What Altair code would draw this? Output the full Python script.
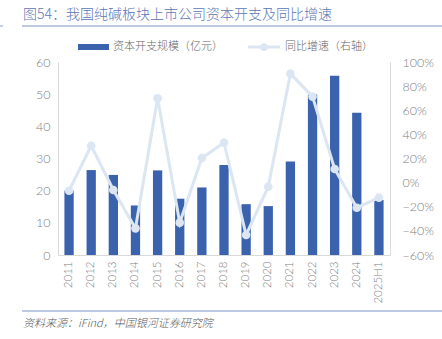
import altair as alt
import pandas as pd

years = ["2011", "2012", "2013", "2014", "2015", "2016", "2017", "2018",
         "2019", "2020", "2021", "2022", "2023", "2024", "2025H1"]
capex = [20.0, 26.4, 24.9, 15.4, 26.3, 17.5, 21.0, 28.0,
         15.8, 15.2, 29.1, 49.9, 55.7, 44.2, 17.1]
growth = [-0.067, 0.306, -0.061, -0.379, 0.699, -0.332, 0.204, 0.331,
          -0.434, -0.034, 0.903, 0.713, 0.113, -0.208, -0.125]

df = pd.DataFrame({"year": years, "capex": capex, "growth": growth})

FONT = "Noto Sans CJK SC"
NUMFONT = "Lato"
BAR = "#3a62ad"
LINE = "#dbe6f2"
GRAY = "#808080"
DOMAIN = "#d9d9d9"
TITLE_C = "#5a78b6"

xenc = alt.X("year:N", sort=years, title=None,
             scale=alt.Scale(paddingInner=0.58, paddingOuter=0.29),
             axis=alt.Axis(labelAngle=270, labelColor=GRAY, labelFontSize=11.5,
                           labelPadding=6, ticks=False, domainColor=DOMAIN,
                           labelFont=NUMFONT, labelFontWeight=300))

bars = alt.Chart(df).mark_bar(color=BAR).encode(
    x=xenc,
    y=alt.Y("capex:Q", title=None,
            scale=alt.Scale(domain=[0, 60], nice=False),
            axis=alt.Axis(values=[0, 10, 20, 30, 40, 50, 60], ticks=False,
                          grid=False, labelColor=GRAY, labelFontSize=12.5,
                          labelPadding=8, domainColor=DOMAIN, labelFont=NUMFONT,
                          labelFontWeight=300)),
)

line = alt.Chart(df).mark_line(color=LINE, strokeWidth=3,
                               point=alt.OverlayMarkDef(color=LINE, filled=True, size=75, opacity=1)).encode(
    x=alt.X("year:N", sort=years),
    y=alt.Y("growth:Q", title=None,
            scale=alt.Scale(domain=[-0.6, 1.0], nice=False),
            axis=alt.Axis(orient="right", format=".0%",
                          values=[-0.6, -0.4, -0.2, 0, 0.2, 0.4, 0.6, 0.8, 1.0],
                          ticks=False, grid=False, labelColor=GRAY,
                          labelFontSize=12.5, labelPadding=12,
                          domainColor=DOMAIN, labelFont=NUMFONT,
                          labelFontWeight=300)),
)

one = alt.Data(values=[{"a": 1}])

def text(t, x, y, size, color, style="normal", weight=300):
    return alt.Chart(one).mark_text(text=t, font=FONT, fontSize=size, color=color,
                                    fontStyle=style, fontWeight=weight,
                                    align="left", baseline="middle").encode(
        x=alt.value(x), y=alt.value(y))

def hrule(x1, x2, y, color, w=1.2):
    return alt.Chart(one).mark_rule(color=color, strokeWidth=w).encode(
        x=alt.value(x1), x2=alt.value(x2), y=alt.value(y))

title = text("图54：我国纯碱板块上市公司资本开支及同比增速", -35, -47, 14, TITLE_C)
top_rule = hrule(-36, 384, -36, "#7f96c8")
left_seg = hrule(-58, -55, -36, "#9fb0d4")
bot_rule = hrule(-36, 384, 249, "#7f96c8")
source = text("资料来源：iFind，中国银河证券研究院", -35, 262, 11, "#595959", style="italic")

leg_rect = alt.Chart(one).mark_rect(color=BAR).encode(
    x=alt.value(20), x2=alt.value(51), y=alt.value(-18), y2=alt.value(-12))
leg_t1 = text("资本开支规模（亿元）", 55, -15, 11, "#666666")
leg_line = alt.Chart(one).mark_rule(color=LINE, strokeWidth=3).encode(
    x=alt.value(190), x2=alt.value(222), y=alt.value(-15))
leg_pt = alt.Chart(one).mark_point(color=LINE, filled=True, size=60, opacity=1).encode(
    x=alt.value(206), y=alt.value(-15))
leg_t2 = text("同比增速（右轴）", 227, -15, 11, "#666666")

chart = alt.layer(
    bars, line, title, top_rule, left_seg, bot_rule, source,
    leg_rect, leg_t1, leg_line, leg_pt, leg_t2
).resolve_scale(y="independent").properties(
    width=332, height=193,
    padding={"left": 58, "top": 62, "right": 52, "bottom": 84},
    autosize=alt.AutoSizeParams(type="none"),
    background="white",
).configure_view(stroke=None)

chart.save("out.html", embed_options={"renderer": "svg", "actions": False})
